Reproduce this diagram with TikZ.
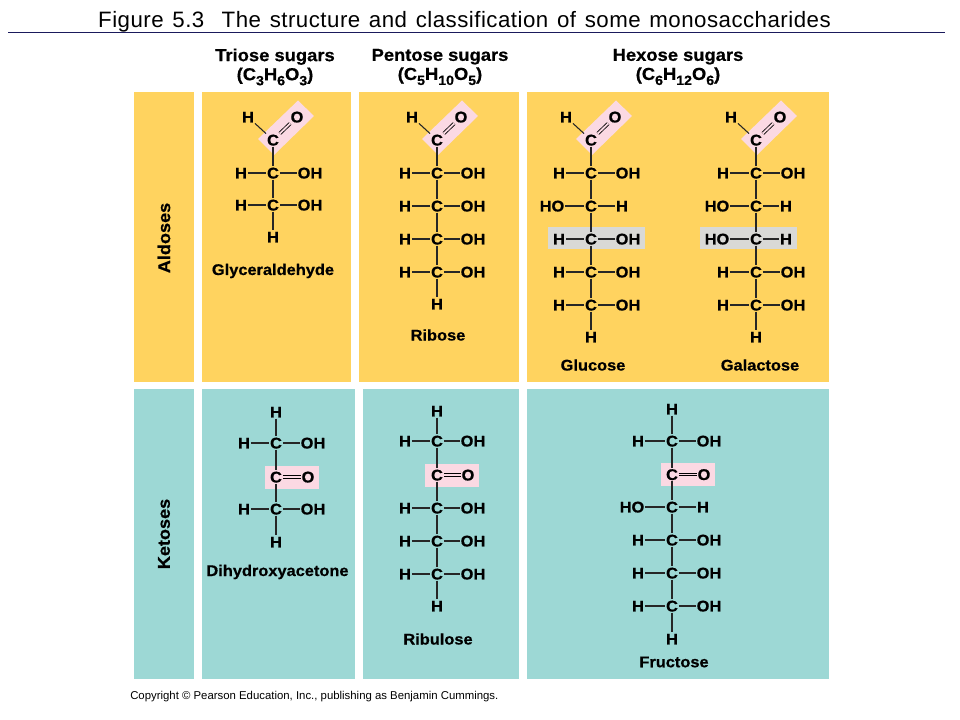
\documentclass[tikz,border=0pt]{standalone}
\usepackage{fontspec}
\setmainfont{Liberation Sans}
\newfontfamily\heavy[FakeStretch=1.06,FakeBold=0.6]{Liberation Sans Bold}
\newfontfamily\titlefont[WordSpace=1.3,LetterSpace=2.2]{Liberation Sans}
\newcommand\sbs[1]{\raisebox{-0.55ex}{\fontsize{10}{10}\selectfont #1}}
\definecolor{aldo}{HTML}{FFD35F}
\definecolor{keto}{HTML}{9DD8D5}
\definecolor{pinkbox}{HTML}{FBD9E3}
\definecolor{graybox}{HTML}{D9D9D6}
\definecolor{navy}{HTML}{1A1A5C}
\tikzset{
  atom/.style={inner sep=0.6pt,text=black,font=\heavy\fontsize{11.6}{12}\selectfont,text height=8.2pt,text depth=0pt},
  bond/.style={draw=black!85,line width=0.8pt},
  dbl/.style={draw=black,line width=0.6pt,double distance=1.4pt},
  name label/.style={inner sep=0pt,font=\heavy\fontsize{11.6}{13}\selectfont},
  head label/.style={inner sep=0pt,font=\heavy\fontsize{13}{14.3}\selectfont},
  side label/.style={inner sep=0pt,rotate=90,font=\heavy\fontsize{12.8}{14}\selectfont},
}
% name, centre x, y, left label, left x, right label, right x
\newcommand\crow[7]{%
  \node[atom] (#1) at (#2,#3) {C};
  \node[atom] (#1l) at (#5,#3) {#4};
  \node[atom] (#1r) at (#7,#3) {#6};
  \draw[bond] (#1l) -- (#1);
  \draw[bond] (#1) -- (#1r);
}
% name, centre x: aldehyde head at y=140
\newcommand\ahead[2]{%
  \fill[pinkbox] (#2+25,100.5) -- (#2+41,116) -- (#2+1,155) -- (#2-15,139) -- cycle;
  \node[atom] (#1) at (#2,140) {C};
  \node[atom] (#1h) at (#2-25,117) {H};
  \node[atom] (#1o) at (#2+24,117) {O};
  \draw[bond] (#1h) -- (#1);
  \draw[dbl,double=pinkbox] (#1) -- (#1o);
}
% name, centre x, y, O x, box left, box right
\newcommand\keto[6]{%
  \fill[pinkbox] (#5,#3-11.5) rectangle (#6,#3+11.5);
  \node[atom] (#1) at (#2,#3) {C};
  \node[atom] (#1o) at (#4,#3) {O};
  \draw[dbl,double=pinkbox] (#1) -- (#1o);
}
\newcommand\vb[2]{\draw[bond] (#1) -- (#2);}
\begin{document}
\begin{tikzpicture}[x=0.75pt,y=-0.75pt]
\useasboundingbox (0,0) rectangle (960,720);
\fill[white] (0,0) rectangle (960,720);
% title
\node[inner sep=0pt,font=\titlefont\fontsize{16.7}{18}\selectfont] (title) at (464.5,22) {Figure 5.3\ \ The structure and classification of some monosaccharides};
\coordinate (ruleL) at (8,32.5);
\coordinate (ruleR) at (945,32.5);
\draw[navy,line width=0.7pt] (ruleL) -- (ruleR);
% headers
\node[head label,align=center] (h1) at (275,67) {Triose sugars\\(C\sbs{3}H\sbs{6}O\sbs{3})};
\node[head label,align=center] (h2) at (440,67) {Pentose sugars\\(C\sbs{5}H\sbs{10}O\sbs{5})};
\node[head label,align=center] (h3) at (678,67) {Hexose sugars\\(C\sbs{6}H\sbs{12}O\sbs{6})};
% panels
\fill[aldo] (134,92) rectangle (193.5,382);
\fill[aldo] (201.5,92) rectangle (351,382);
\fill[aldo] (359,92) rectangle (518.5,382);
\fill[aldo] (526.5,92) rectangle (829,382);
\fill[keto] (134,389) rectangle (193.5,679);
\fill[keto] (201.5,389) rectangle (354.5,679);
\fill[keto] (363,389) rectangle (518.5,679);
\fill[keto] (526.5,389) rectangle (829,679);
\node[side label] (aldoses) at (164,238) {Aldoses};
\node[side label] (ketoses) at (164,534) {Ketoses};
% gray bands
\fill[graybox] (548,227) rectangle (645,249);
\fill[graybox] (700,227) rectangle (797,249);
% glyceraldehyde
\ahead{ga}{273}
\crow{ga1}{273}{173}{H}{241}{OH}{310}
\crow{ga2}{273}{205}{H}{241}{OH}{310}
\node[atom] (gaH) at (273,237) {H};
\vb{ga}{ga1}\vb{ga1}{ga2}\vb{ga2}{gaH}
\node[name label] (gaN) at (273,271) {Glyceraldehyde};
% ribose
\ahead{ri}{437}
\crow{ri1}{437}{173}{H}{405}{OH}{473}
\crow{ri2}{437}{206}{H}{405}{OH}{473}
\crow{ri3}{437}{239}{H}{405}{OH}{473}
\crow{ri4}{437}{272}{H}{405}{OH}{473}
\node[atom] (riH) at (437,304) {H};
\vb{ri}{ri1}\vb{ri1}{ri2}\vb{ri2}{ri3}\vb{ri3}{ri4}\vb{ri4}{riH}
\node[name label] (riN) at (438,335) {Ribose};
% glucose
\ahead{gl}{591}
\crow{gl1}{591}{173}{H}{559}{OH}{628}
\crow{gl2}{591}{206}{HO}{552}{H}{622}
\crow{gl3}{591}{239}{H}{559}{OH}{628}
\crow{gl4}{591}{272}{H}{559}{OH}{628}
\crow{gl5}{591}{305}{H}{559}{OH}{628}
\node[atom] (glH) at (591,337) {H};
\vb{gl}{gl1}\vb{gl1}{gl2}\vb{gl2}{gl3}\vb{gl3}{gl4}\vb{gl4}{gl5}\vb{gl5}{glH}
\node[name label] (glN) at (593,365) {Glucose};
% galactose
\ahead{ct}{756}
\crow{ct1}{756}{173}{H}{723}{OH}{793}
\crow{ct2}{756}{206}{HO}{717}{H}{786}
\crow{ct3}{756}{239}{HO}{717}{H}{786}
\crow{ct4}{756}{272}{H}{723}{OH}{793}
\crow{ct5}{756}{305}{H}{723}{OH}{793}
\node[atom] (ctH) at (756,337) {H};
\vb{ct}{ct1}\vb{ct1}{ct2}\vb{ct2}{ct3}\vb{ct3}{ct4}\vb{ct4}{ct5}\vb{ct5}{ctH}
\node[name label] (ctN) at (760,365) {Galactose};
% dihydroxyacetone
\node[atom] (daT) at (276,412) {H};
\crow{da1}{276}{443}{H}{244}{OH}{313}
\keto{da2}{276}{477}{308}{265}{319}
\crow{da3}{276}{509}{H}{244}{OH}{313}
\node[atom] (daH) at (276,542) {H};
\vb{daT}{da1}\vb{da1}{da2}\vb{da2}{da3}\vb{da3}{daH}
\node[name label] (daN) at (277.5,572) {Dihydroxyacetone};
% ribulose
\node[atom] (ruT) at (437,411) {H};
\crow{ru1}{437}{441}{H}{405}{OH}{473}
\keto{ru2}{437}{475}{468}{425}{479}
\crow{ru3}{437}{508}{H}{405}{OH}{473}
\crow{ru4}{437}{541}{H}{405}{OH}{473}
\crow{ru5}{437}{574}{H}{405}{OH}{473}
\node[atom] (ruH) at (437,606) {H};
\vb{ruT}{ru1}\vb{ru1}{ru2}\vb{ru2}{ru3}\vb{ru3}{ru4}\vb{ru4}{ru5}\vb{ru5}{ruH}
\node[name label] (ruN) at (438,639) {Ribulose};
% fructose
\node[atom] (frT) at (672,409) {H};
\crow{fr1}{672}{441}{H}{638}{OH}{709}
\keto{fr2}{672}{474.5}{704}{661}{715}
\crow{fr3}{672}{507}{HO}{632}{H}{703}
\crow{fr4}{672}{540}{H}{638}{OH}{709}
\crow{fr5}{672}{573}{H}{638}{OH}{709}
\crow{fr6}{672}{606}{H}{638}{OH}{709}
\node[atom] (frH) at (672,639) {H};
\vb{frT}{fr1}\vb{fr1}{fr2}\vb{fr2}{fr3}\vb{fr3}{fr4}\vb{fr4}{fr5}\vb{fr5}{fr6}\vb{fr6}{frH}
\node[name label] (frN) at (674,662) {Fructose};
% copyright
\node[inner sep=0pt,anchor=west,font=\fontsize{8.53}{10}\selectfont] (copy) at (130,696.5) {Copyright © Pearson Education, Inc., publishing as Benjamin Cummings.};
\end{tikzpicture}
\end{document}
